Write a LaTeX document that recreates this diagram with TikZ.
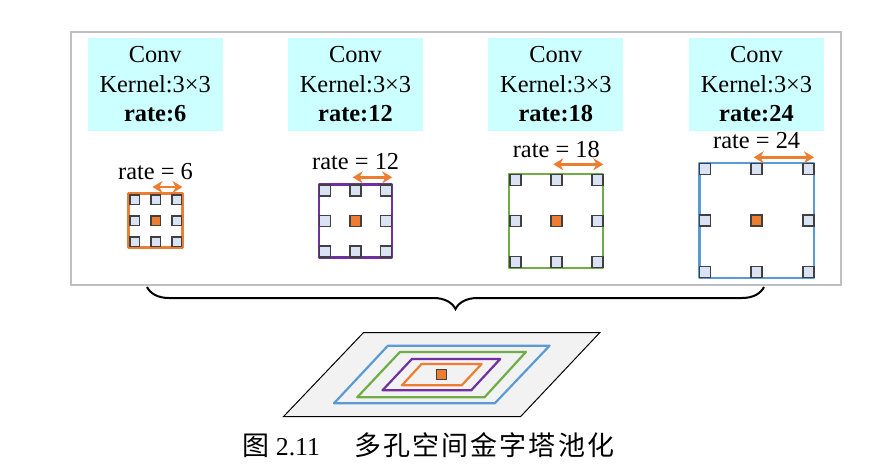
\documentclass[tikz,border=0pt]{standalone}
\usepackage{fontspec}
\setmainfont{Liberation Serif}
\newfontfamily\cjk[LetterSpace=8]{Noto Sans CJK SC}
\usetikzlibrary{arrows.meta,decorations.pathreplacing}
\definecolor{convcyan}{HTML}{CCFFFF}
\definecolor{rorange}{HTML}{ED7D31}
\definecolor{rpurple}{HTML}{7030A0}
\definecolor{rgreen}{HTML}{70AD47}
\definecolor{rblue}{HTML}{5B9BD5}
\definecolor{cellfill}{HTML}{DAE3F3}
\definecolor{planefill}{HTML}{F2F2F2}

\begin{document}
\begin{tikzpicture}[x=0.5pt,y=-0.5pt,
    conv/.style={fill=convcyan, minimum width=67.5pt, minimum height=46.5pt,
      align=center, inner sep=0pt, font=\fontsize{12.2}{14.75}\selectfont},
    ratelbl/.style={inner sep=0pt, font=\fontsize{12.2}{14.75}\selectfont},
    cell/.style={draw=black!75, fill=cellfill, line width=0.75pt},
    ring/.style={line width=1.1pt, line join=round},
    span/.style={rorange, line width=1.2pt,
      {Stealth[length=5pt,width=6pt]}-{Stealth[length=5pt,width=6pt]}}]

    \useasboundingbox (0,0) rectangle (891,467);
    \draw [black!25, line width=0.9pt] (71,32) rectangle (841,285);

    % conv blocks
    \foreach \i/\cx/\r in {1/155.2/6, 2/355.5/12, 3/555.8/18, 4/756.5/24}
        \node [conv] (conv\i) at (\cx,84.5) {Conv\\Kernel:3×3\\\textbf{rate:\r}};

    % dilated kernels
    \foreach \i/\cx/\cy/\h/\o/\s/\col/\r/\ay/\ty in
        {1/155.5/220.5/27/21/9.5/rorange/6/187/171.5,
         2/355.7/221/36.5/30.5/11/rpurple/12/177.3/161.7,
         3/556.3/221/47/41/11/rgreen/18/164.3/150,
         4/756.7/220.5/57.3/51.7/11/rblue/24/157.3/141}{
        \draw [\col, ring] (\cx-\h,\cy-\h) rectangle (\cx+\h,\cy+\h);
        \foreach \dx in {-1,0,1}
            \foreach \dy in {-1,0,1}
                \draw [cell] ({\cx+\dx*\o-\s/2},{\cy+\dy*\o-\s/2}) rectangle ++(\s,\s);
        \draw [cell, fill=rorange] ({\cx-\s/2},{\cy-\s/2}) rectangle ++(\s,\s);
        \coordinate (s\i) at (\cx-3,\ay);
        \coordinate (e\i) at (\cx+\h,\ay);
        \draw [span] (s\i) -- (e\i);
        \node [ratelbl] (lbl\i) at (\cx,\ty) {rate = \r};
    }

    % brace
    \coordinate (bl) at (147,287);
    \coordinate (br) at (764,287);
    \draw [decorate, decoration={brace, mirror, amplitude=11pt}, line width=1pt] (bl) -- (br);

    % pyramid plane
    \draw [fill=planefill, line width=0.5pt] (363.4,332.7) -- (599.7,332.7) -- (520.5,416.7) -- (283.4,416.7) -- cycle;
    \draw [rblue, ring] (387.9,345.7) -- (549.6,345.7) -- (494.8,403.3) -- (334,403.3) -- cycle;
    \draw [rgreen, ring] (399.9,352) -- (525.9,352) -- (484.5,397.3) -- (357.2,397.3) -- cycle;
    \draw [rpurple, ring] (411.9,359) -- (500.2,359) -- (471.2,390.3) -- (382.5,390.3) -- cycle;
    \draw [rorange, ring] (421.5,364) -- (481.6,364) -- (461.7,385.3) -- (402,385.3) -- cycle;
    \draw [cell, fill=rorange] (436.4,369.3) rectangle (446.7,379.3);

    \node [anchor=west, inner sep=0pt, font=\fontsize{12.9}{15}\selectfont] (cap) at (242,445)
        {{\cjk\fontsize{13.5}{15}\selectfont 图} 2.11\hspace{17pt}{\cjk\fontsize{13.5}{15}\selectfont 多孔空间金字塔池化}};
\end{tikzpicture}
\end{document}
